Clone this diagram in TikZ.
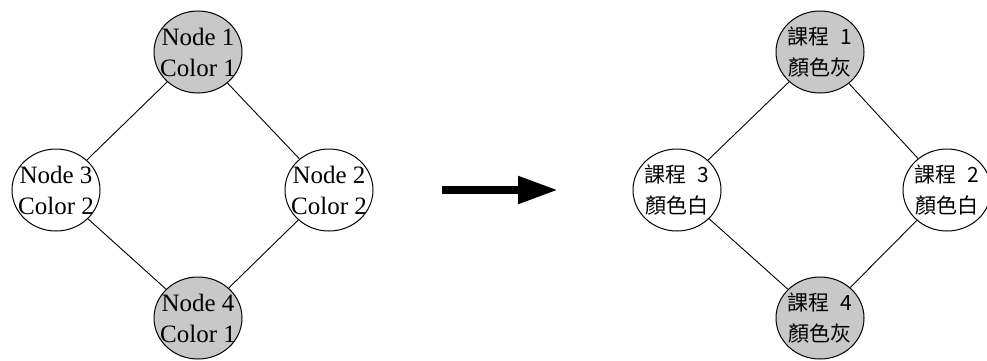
\documentclass[tikz,border=0pt]{standalone}
\usepackage{fontspec}
\setmainfont{Liberation Serif}
\newfontfamily\cjk{Noto Sans CJK TC}
\usetikzlibrary{shapes.geometric,arrows.meta}
\definecolor{nodegray}{RGB}{200,200,200}
\begin{document}
\begin{tikzpicture}[x=1pt,y=1pt,
  cnode/.style={ellipse,draw=black,line width=1pt,minimum width=88pt,minimum height=82pt,inner sep=0pt},
  graynode/.style={cnode,fill=nodegray},
  whitenode/.style={cnode,fill=white},
  latintext/.style={label={[font=\fontsize{25}{31}\selectfont,align=center,inner sep=0pt]center:#1}},
  cjktext/.style={label={[font=\cjk\fontsize{21}{31}\selectfont,align=center,inner sep=0pt]center:#1}},
  edge/.style={draw=black,line width=0.9pt},
  bigarrow/.style={line width=8pt,-{Triangle[length=40pt,width=26pt]}}]
\useasboundingbox (0,0) rectangle (987,360);
\fill[white] (0,0) rectangle (987,360);
% left graph
\node[graynode,latintext={Node 1\\Color 1}] (n1) at (198,308) {};
\node[whitenode,latintext={Node 3\\Color 2}] (n3) at (56,170) {};
\node[whitenode,latintext={Node 2\\Color 2}] (n2) at (329,170) {};
\node[graynode,latintext={Node 4\\Color 1}] (n4) at (198,42) {};
\draw[edge] (n1) -- (n3);
\draw[edge] (n1) -- (n2);
\draw[edge] (n3) -- (n4);
\draw[edge] (n2) -- (n4);
% arrow
\coordinate (a1) at (442,170);
\coordinate (a2) at (558,170);
\draw[bigarrow] (a1) -- (a2);
% right graph
\node[graynode,cjktext={課程\hspace{0.5em}1\\顏色灰}] (r1) at (820,308) {};
\node[whitenode,cjktext={課程\hspace{0.5em}3\\顏色白}] (r3) at (677,170) {};
\node[whitenode,cjktext={課程\hspace{0.5em}2\\顏色白}] (r2) at (947,170) {};
\node[graynode,cjktext={課程\hspace{0.5em}4\\顏色灰}] (r4) at (820,42) {};
\draw[edge] (r1) -- (r3);
\draw[edge] (r1) -- (r2);
\draw[edge] (r3) -- (r4);
\draw[edge] (r2) -- (r4);
\end{tikzpicture}
\end{document}
